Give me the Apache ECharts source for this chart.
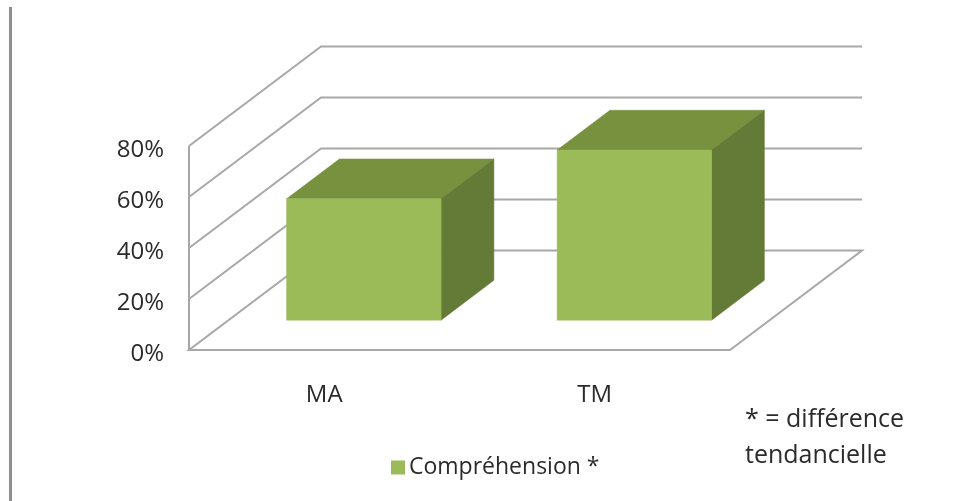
<!DOCTYPE html>
<html>
<head>
<meta charset="utf-8">
<style>html,body{margin:0;padding:0;background:#fff}#chart{width:960px;height:501px}</style>
<script src="https://cdn.jsdelivr.net/npm/echarts@6/dist/echarts.min.js"></script>
</head>
<body>
<div id="chart"></div>
<script>
const categories = ['MA', 'TM'];
const comprehension = [47.6, 66.7];
const axisTicks = [0, 20, 40, 60, 80];
const seriesName = 'Compréhension *';
const noteLines = ['* = différence', 'tendancielle'];

// Oblique projection of the box: depth 1 is the back wall of the plot.
const DEPTH_X = 132;
const DEPTH_Y = -99.5;
const BAR_FRONT = 0.30;
const BAR_BACK = 0.70;
const BAR_RATIO = 0.571;

const FONT = '"Open Sans", sans-serif';
const INK = '#2b2b2b';
const WALL = '#a8a8a8';
const FACE = '#9bbb59';
const TOP = '#77913f';
const SIDE = '#647a37';

const project = (p, d) => [p[0] + DEPTH_X * d, p[1] + DEPTH_Y * d];

function polygon(points, fill) {
  return { type: 'polygon', shape: { points }, style: { fill, stroke: fill, lineWidth: 0.5 } };
}

// One wall line per tick: runs up the left wall, then along the back wall.
function renderWall(params, api) {
  const box = params.coordSys;
  const y = api.coord([0, api.value(1)])[1];
  const front = [box.x, y];
  const back = project(front, 1);
  const end = [box.x + box.width + DEPTH_X, back[1]];
  const isFloor = api.value(1) === axisTicks[0];
  const stroke = { stroke: WALL, lineWidth: 2, fill: 'none' };
  const children = [];
  if (isFloor) {
    children.push({
      type: 'polygon',
      shape: { points: [front, [box.x + box.width, y], [end[0], y + DEPTH_Y], back] },
      style: stroke
    });
    children.push({
      type: 'line',
      shape: { x1: box.x, y1: y, x2: box.x, y2: box.y },
      style: stroke
    });
  } else {
    children.push({ type: 'polyline', shape: { points: [front, back, end] }, style: stroke });
  }
  return { type: 'group', children };
}

function renderBar(params, api) {
  const center = api.coord([api.value(0), 0]);
  const top = api.coord([api.value(0), api.value(1)]);
  const half = api.size([1, 0])[0] * BAR_RATIO / 2;
  const bl = project([center[0] - half, center[1]], BAR_FRONT);
  const br = project([center[0] + half, center[1]], BAR_FRONT);
  const tl = project([center[0] - half, top[1]], BAR_FRONT);
  const tr = project([center[0] + half, top[1]], BAR_FRONT);
  const span = BAR_BACK - BAR_FRONT;
  const shift = p => [p[0] + DEPTH_X * span, p[1] + DEPTH_Y * span];
  return {
    type: 'group',
    children: [
      polygon([tl, tr, shift(tr), shift(tl)], TOP),
      polygon([br, tr, shift(tr), shift(br)], SIDE),
      polygon([tl, tr, br, bl], FACE)
    ]
  };
}

const chart = echarts.init(document.getElementById('chart'));
chart.setOption({
  animation: false,
  backgroundColor: '#fff',
  grid: { left: 189, width: 541, top: 146, height: 204 },
  xAxis: {
    type: 'category',
    data: categories,
    axisLine: { show: false },
    axisTick: { show: false },
    axisLabel: { color: INK, fontFamily: FONT, fontSize: 24, margin: 33 }
  },
  yAxis: {
    type: 'value',
    min: axisTicks[0],
    max: axisTicks[axisTicks.length - 1],
    interval: 20,
    splitLine: { show: false },
    axisLine: { show: false },
    axisTick: { show: false },
    axisLabel: {
      margin: 25,
      formatter: '{t|{value}%}',
      // The labels sit slightly below their wall lines.
      rich: { t: { color: INK, fontFamily: FONT, fontSize: 24, padding: [8, 0, 0, 0] } }
    }
  },
  legend: {
    data: [seriesName],
    left: 386,
    top: 451,
    itemWidth: 14,
    itemHeight: 14,
    itemGap: 8,
    icon: 'rect',
    textStyle: { color: INK, fontFamily: FONT, fontSize: 23, padding: [0, 0, 0, -1] }
  },
  graphic: [
    { type: 'rect', shape: { x: 9, y: 7, width: 3, height: 494 }, style: { fill: '#8f8f8f' } },
    { type: 'text', style: { x: 745, y: 420, text: noteLines[0], fill: INK, font: '25px ' + FONT, textVerticalAlign: 'middle' } },
    { type: 'text', style: { x: 745, y: 456, text: noteLines[1], fill: INK, font: '25px ' + FONT, textVerticalAlign: 'middle' } }
  ],
  series: [
    {
      type: 'custom',
      name: 'walls',
      silent: true,
      z: 1,
      renderItem: renderWall,
      encode: { x: 0, y: 1 },
      data: axisTicks.map(t => [0, t])
    },
    {
      type: 'custom',
      name: seriesName,
      z: 2,
      itemStyle: { color: FACE },
      renderItem: renderBar,
      encode: { x: 0, y: 1 },
      data: comprehension.map((v, i) => [i, v])
    }
  ]
});
</script>
</body>
</html>
